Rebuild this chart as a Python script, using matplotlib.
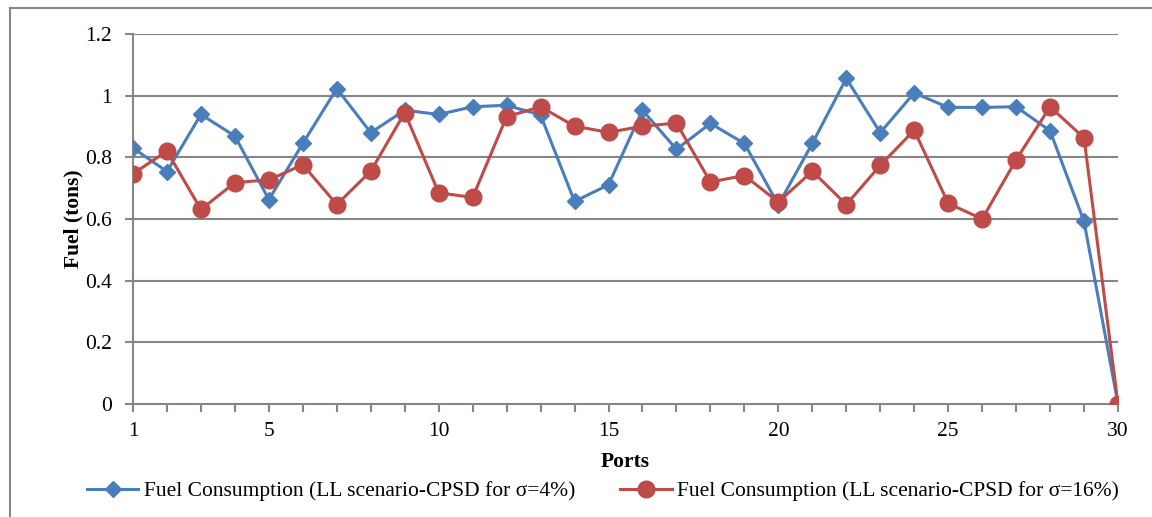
import matplotlib
matplotlib.use("Agg")
import matplotlib.pyplot as plt
from matplotlib.lines import Line2D

ports = list(range(1, 31))
fuel_sigma4 = [0.830, 0.754, 0.939, 0.869, 0.663, 0.845, 1.023, 0.880, 0.953, 0.939,
               0.964, 0.969, 0.937, 0.657, 0.711, 0.953, 0.826, 0.910, 0.845, 0.646,
               0.845, 1.056, 0.880, 1.009, 0.962, 0.962, 0.964, 0.886, 0.592, 0.0]
fuel_sigma16 = [0.747, 0.820, 0.631, 0.718, 0.727, 0.776, 0.647, 0.755, 0.945, 0.685,
                0.670, 0.932, 0.964, 0.901, 0.881, 0.901, 0.911, 0.720, 0.741, 0.655,
                0.755, 0.647, 0.774, 0.888, 0.651, 0.600, 0.792, 0.964, 0.863, 0.0]
xtick_labels = [1, 5, 10, 15, 20, 25, 30]
ytick_values = [0, 0.2, 0.4, 0.6, 0.8, 1, 1.2]

label_4 = "Fuel Consumption (LL scenario-CPSD for σ=4%)"
label_16 = "Fuel Consumption (LL scenario-CPSD for σ=16%)"

BLUE = "#4A7EBB"
RED = "#BE4B48"
GRID = "#868686"
FS = 15.5

plt.rcParams["font.family"] = ["Liberation Serif", "DejaVu Serif"]

fig = plt.figure(figsize=(11.52, 5.17), dpi=100)
ax = fig.add_axes([133 / 1152, 1 - 404 / 517, (1118 - 133) / 1152, (404 - 34) / 517])

ax.plot(ports, fuel_sigma4, color=BLUE, lw=2.2, marker="D", ms=8.5,
        mec=BLUE, mfc=BLUE, label=label_4, zorder=3)
ax.plot(ports, fuel_sigma16, color=RED, lw=2.2, marker="o", ms=12,
        mec=RED, mfc=RED, label=label_16, zorder=3)

ax.set_xlim(1, 30)
ax.set_ylim(0, 1.2)
ax.set_yticks(ytick_values)
ax.set_yticklabels(["0", "0.2", "0.4", "0.6", "0.8", "1", "1.2"])
ax.set_xticks(xtick_labels)
ax.set_xticks(ports, minor=True)
ax.set_xticklabels([str(v) for v in xtick_labels])

for v in ytick_values[1:]:
    ax.axhline(v, color=GRID, lw=1.5, zorder=1)

for side in ("top", "right"):
    ax.spines[side].set_visible(False)
for side in ("left", "bottom"):
    ax.spines[side].set_color(GRID)
    ax.spines[side].set_linewidth(1.5)

ax.tick_params(axis="y", which="both", direction="out", length=6, width=1.5,
               color=GRID, labelsize=FS, pad=9)
ax.tick_params(axis="x", which="both", direction="out", length=6, width=1.5,
               color=GRID, labelsize=FS, pad=7)

ax.set_ylabel("Fuel (tons)", fontsize=FS, fontweight="bold", labelpad=1)
ax.set_xlabel("Ports", fontsize=FS, fontweight="bold", labelpad=8)

ax.legend(loc="center", bbox_to_anchor=(603 / 1152, 1 - 491 / 517), bbox_transform=fig.transFigure,
          ncol=2, frameon=False, fontsize=FS, handlelength=2.4, handletextpad=0.25,
          columnspacing=2.1)

# outer frame (left and top edges)
fig.add_artist(Line2D([10 / 1152, 10 / 1152], [0, 1 - 8 / 517], transform=fig.transFigure,
                      color=GRID, lw=1.5))
fig.add_artist(Line2D([10 / 1152, 1], [1 - 8 / 517, 1 - 8 / 517], transform=fig.transFigure,
                      color=GRID, lw=1.5))

fig.savefig("out.png", dpi=100)
